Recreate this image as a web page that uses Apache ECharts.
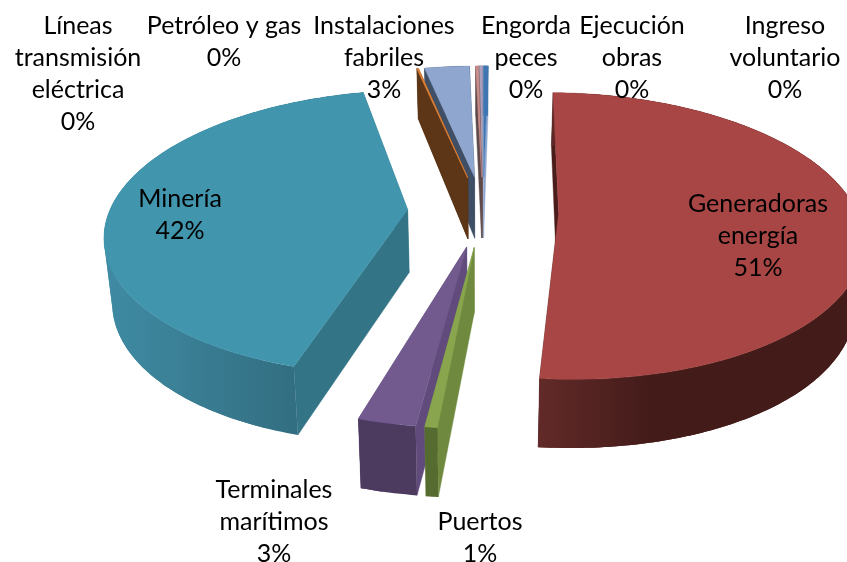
<!DOCTYPE html>
<html><head><meta charset="utf-8">
<style>html,body{margin:0;padding:0;background:#fff}#c{width:847px;height:562px}</style>
<script src="https://cdn.jsdelivr.net/npm/echarts@6/dist/echarts.min.js"></script>
</head><body><div id="c"></div>
<script>
// Data
const categories = ['Generadoras\nenergía','Puertos','Terminales\nmarítimos','Minería','Líneas\ntransmisión\neléctrica','Petróleo y gas','Instalaciones\nfabriles','Engorda\npeces','Ejecución\nobras','Ingreso\nvoluntario'];
const values = [51.2,0.55,2.55,42.0,0.02,0.08,2.9,0.2,0.2,0.3];

// Styles: top face, edge wall, outer wall shading
const topColors  = ['#A74644','#89A64E','#725A8F','#4196AE','#E9873A','#E9873A','#8FA6CF','#C98C88','#A9A0C0','#3F75B0'];
const wallColors = ['#4A1C1A','#6F8A3E','#604B7C','#337486','#5C3617','#5C3617','#3E4F66','#5E4A4A','#5E4A4A','#8FA6CF'];
const rimStart   = ['#612A28','#566B30','#4C3A5F','#3F8BA3','#5C3617','#5C3617','#3E4F66','#5E4A4A','#5E4A4A','#3F75B0'];
const rimEnd     = ['#431B19','#566B30','#4C3A5F','#316A7D','#5C3617','#5C3617','#3E4F66','#5E4A4A','#5E4A4A','#3F75B0'];
// Painter's order of the slices
const drawRank = [5,7,6,4,2,2,1,3,3,3];
// Label line-block centres, page pixels
const labelX = [758,480,274,180,78,224,384,526,632,785];
const labelY = [236,538,522,215,74,42,58,58,58,58];

// Scene
const cx=483, cy=211, rx=298, ry=139, k=0.16, explode=0.2536, startPct=0.3, vanishX=478, floorScale=0.978;
const FONT='Lato, Carlito, sans-serif', FS=25, LH=32;

function depth(v){return 63-7.84*v-2.16*v*v;}
function proj(u,v,low){
  const w=1/(1+k*v);
  let x=cx+rx*u*w, y=cy-ry*v*w;
  if(low){y+=depth(v); x=vanishX+(x-vanishX)*floorScale;}
  return [x,y];
}
const total=values.reduce((a,b)=>a+b,0);
function sliceAngles(i){
  let s=startPct; for(let j=0;j<i;j++) s+=values[j];
  return [s/total*2*Math.PI,(s+values[i])/total*2*Math.PI];
}
function renderItem(params){
  const i=params.dataIndex, [a0,a1]=sliceAngles(i), mid=(a0+a1)/2;
  const au=explode*Math.sin(mid), av=explode*Math.cos(mid);
  const n=Math.max(2,Math.ceil((a1-a0)/(Math.PI/180)));
  const arc=[];
  for(let t=0;t<=n;t++){const a=a0+(a1-a0)*t/n; arc.push([au+Math.sin(a),av+Math.cos(a)]);}
  const top=arc.map(p=>proj(p[0],p[1],false));
  const low=arc.map(p=>proj(p[0],p[1],true));
  const apexT=proj(au,av,false), apexL=proj(au,av,true);
  const poly=(pts,fill,lvl,lw)=>({type:'polygon',z2:drawRank[i]*10+lvl,shape:{points:pts},
    style:{fill:fill,stroke:fill,lineWidth:lw===undefined?0.4:lw},silent:true});
  const children=[
    poly([apexT,top[0],low[0],apexL],wallColors[i],0),
    poly([apexT,top[n],low[n],apexL],wallColors[i],1)
  ];
  // outer wall: overlapping quads sharing one page-wide left-to-right shade
  const xs=top.map(p=>p[0]), xMin=Math.min.apply(null,xs), xMax=Math.max.apply(null,xs);
  const reach=(i===0?0.35:0.85)*Math.max(1,xMax-xMin);
  const shade=new echarts.graphic.LinearGradient(xMin,0,xMin+reach,0,[
    {offset:0,color:rimStart[i]},{offset:1,color:rimEnd[i]}],true);
  const step=6;
  for(let t=0;t<n;t+=step){
    const e=Math.min(n,t+step*2);
    const a=top.slice(t,e+1), b=low.slice(t,e+1).reverse();
    children.push(poly(a.concat(b),shade,2,0));
  }
  children.push(poly([apexT].concat(top),topColors[i],3));
  const pct=Math.round(values[i]/total*100)+'%';
  children.push({type:'text',z2:1000,silent:true,style:{
    text:categories[i]+'\n'+pct,x:labelX[i],y:labelY[i],align:'center',verticalAlign:'middle',
    font:FS+'px '+FONT,lineHeight:LH,fill:'#000'}});
  return {type:'group',children:children};
}
const chart=echarts.init(document.getElementById('c'),null,{renderer:'canvas'});
chart.setOption({
  animation:false,
  backgroundColor:'#fff',
  series:[{type:'custom',coordinateSystem:'none',renderItem:renderItem,
    data:categories.map((c,i)=>({name:c,value:values[i]})),silent:true}]
});
</script></body></html>
